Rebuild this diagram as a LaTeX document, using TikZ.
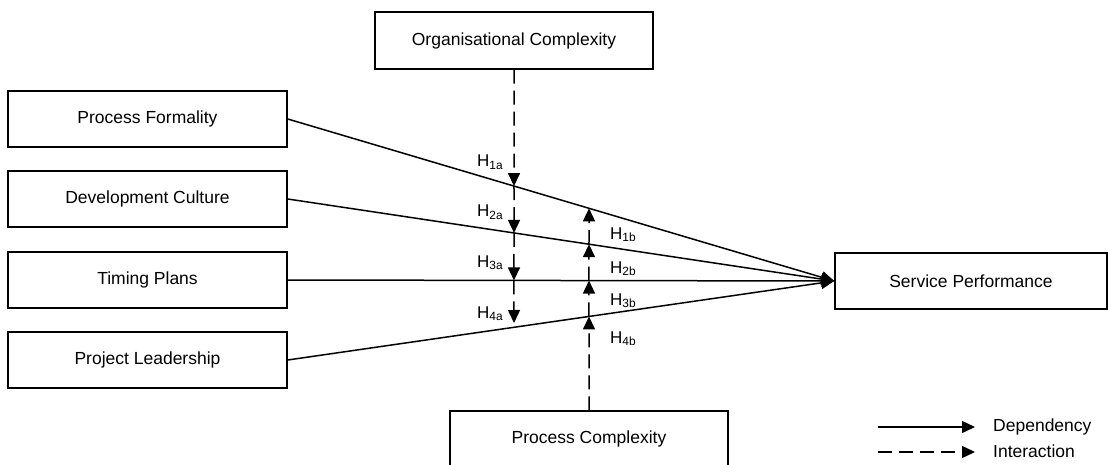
\documentclass[tikz,border=0pt]{standalone}
\usepackage{fontspec}
\setmainfont{Liberation Sans}
\usetikzlibrary{arrows.meta}

\tikzset{
  factor/.style={draw, line width=1.5pt, inner sep=0pt, minimum height=56pt,
    font=\fontsize{17.5}{20}\selectfont},
  dep/.style={line width=1.5pt, ->},
  inter/.style={line width=1.5pt, ->, dash pattern=on 14pt off 7pt},
  hyp/.style={anchor=base west, inner sep=0pt, font=\fontsize{17}{20}\selectfont},
  keytext/.style={anchor=base west, inner sep=0pt, font=\fontsize{17.5}{20}\selectfont},
}

\begin{document}
\begin{tikzpicture}[x=1pt, y=-1pt, >={Triangle[length=13pt,width=12pt]}]
  \useasboundingbox (0,0) rectangle (1108,465);

  % constructs
  \node[factor, minimum width=279pt] (pf) at (147.5,119) {Process Formality};
  \node[factor, minimum width=279pt] (dc) at (147.5,199) {Development Culture};
  \node[factor, minimum width=279pt] (tp) at (147.5,280) {Timing Plans};
  \node[factor, minimum width=279pt] (pl) at (147.5,360) {Project Leadership};
  \node[factor, minimum width=272pt] (sp) at (971,281) {Service Performance};
  \node[factor, minimum width=278pt, minimum height=57pt] (oc) at (514,40.5) {Organisational Complexity};
  \node[factor, minimum width=278pt] (pc) at (589,439) {Process Complexity};

  % dependencies
  \draw[dep] (pf.east) -- (sp.west);
  \draw[dep] (dc.east) -- (sp.west);
  \draw[dep] (tp.east) -- (sp.west);
  \draw[dep] (pl.east) -- (sp.west);

  % interaction from the top
  \coordinate (dbot) at (514,400);
  \coordinate (a1) at (intersection of pf.east--sp.west and oc.south--dbot);
  \coordinate (a2) at (intersection of dc.east--sp.west and oc.south--dbot);
  \coordinate (a3) at (intersection of tp.east--sp.west and oc.south--dbot);
  \coordinate (a4) at (514,323);
  \draw[inter] (oc.south) -- (a1);
  \draw[inter] (a1) -- (a2);
  \draw[inter] (a2) -- (a3);
  \draw[inter] (a3) -- (a4);

  % interaction from the bottom
  \coordinate (utop) at (589,100);
  \coordinate (b1) at (intersection of pf.east--sp.west and pc.north--utop);
  \coordinate (b2) at (intersection of dc.east--sp.west and pc.north--utop);
  \coordinate (b3) at (intersection of tp.east--sp.west and pc.north--utop);
  \coordinate (b4) at (intersection of pl.east--sp.west and pc.north--utop);
  \draw[inter] (pc.north) -- (b4);
  \draw[inter] (b4) -- (b3);
  \draw[inter] (b3) -- (b2);
  \draw[inter] (b2) -- (b1);

  % hypotheses
  \node[hyp] (h1a) at (477,167) {H\textsubscript{1a}};
  \node[hyp] (h2a) at (477,217) {H\textsubscript{2a}};
  \node[hyp] (h3a) at (477,267) {H\textsubscript{3a}};
  \node[hyp] (h4a) at (477,318) {H\textsubscript{4a}};
  \node[hyp] (h1b) at (610,239) {H\textsubscript{1b}};
  \node[hyp] (h2b) at (610,273) {H\textsubscript{2b}};
  \node[hyp] (h3b) at (610,305) {H\textsubscript{3b}};
  \node[hyp] (h4b) at (610,343) {H\textsubscript{4b}};

  % key
  \coordinate (k1) at (878,427);
  \coordinate (k2) at (975,427);
  \coordinate (k3) at (878,452);
  \coordinate (k4) at (975,452);
  \draw[dep] (k1) -- (k2);
  \draw[inter] (k3) -- (k4);
  \node[keytext] (kdep) at (993,431) {Dependency};
  \node[keytext] (kint) at (993,457) {Interaction};
\end{tikzpicture}
\end{document}
